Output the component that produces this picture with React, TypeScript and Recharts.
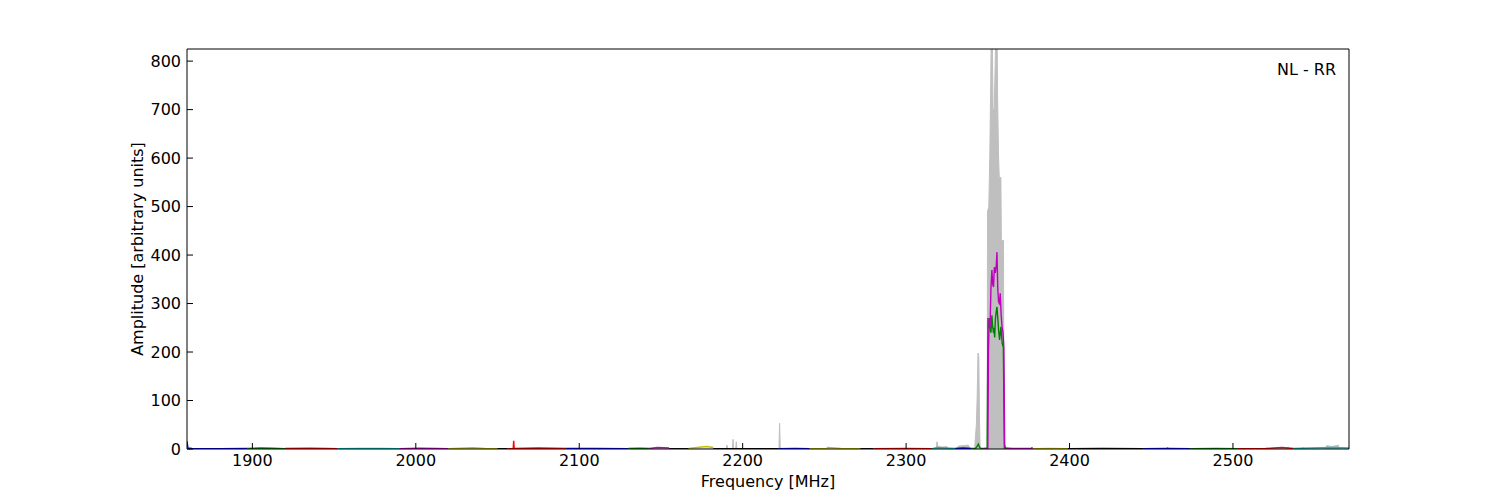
import { ComposedChart, Area, Line, XAxis, YAxis } from "recharts"

// grey max-hold trace
const greyFreq = [
  1860, 2189.9, 2190.4, 2190.9, 2193.7, 2194.1, 2194.5, 2195.7, 2196.1, 2196.5,
  2222.2, 2222.6, 2223.0, 2318.5, 2318.9, 2319.4, 2322, 2325, 2326, 2331, 2332,
  2336, 2338, 2339.5, 2342.0, 2342.3, 2343.0, 2343.5, 2344.0, 2344.5, 2344.9,
  2345.3, 2349.6, 2349.8, 2350.6, 2351.2, 2351.8, 2352.2, 2352.8, 2353.2, 2353.9,
  2354.5, 2355.0, 2355.6, 2356.0, 2356.6, 2357.0, 2358.0, 2358.3, 2359.6, 2359.9,
  2532, 2533.8, 2535, 2541, 2543, 2545, 2556, 2557.5, 2560, 2562, 2564.5, 2565, 2571,
]
const greyAmp = [
  0, 0, 8, 0, 0, 20, 0, 0, 15, 0,
  0, 53, 0, 0, 15, 5, 4, 5, 0, 0, 6,
  7, 8, 0, 0, 20, 50, 110, 198, 190, 60,
  0, 0, 490, 500, 600, 760, 900, 840, 700, 700,
  790, 900, 900, 720, 600, 560, 560, 430, 430, 0,
  0, 4, 0, 0, 3, 0, 0, 7, 5, 6, 8, 0, 0,
]

// coloured sweeps, one per sub-band
const sweepColors = [
  "#0000ff", "#008000", "#ff0000", "#00bfbf", "#bf00bf", "#bfbf00", "#000000",
  "#ff0000", "#0000ff", "#008000", "#bf00bf", "#000000", "#bfbf00", "#000000",
  "#0000ff", "#bfbf00", "#000000", "#ff0000", "#00bfbf", "#0000ff", "#008000",
  "#bf00bf", "#bfbf00", "#000000", "#0000ff", "#008000", "#ff0000", "#00bfbf",
]
const sweepFreqs = [
  [1860, 1860.6, 1863, 1880, 1897],
  [1897, 1905, 1912, 1920],
  [1920, 1935, 1945, 1952],
  [1952, 1965, 1978, 1990],
  [1990, 2002, 2012, 2020],
  [2020, 2035, 2042, 2050],
  [2050, 2056],
  [2056, 2059.6, 2059.9, 2060.2, 2075, 2092],
  [2092, 2110, 2130],
  [2130, 2137, 2143],
  [2143, 2148, 2155],
  [2155, 2167],
  [2167, 2172, 2178, 2182],
  [2182, 2200, 2222],
  [2222, 2232, 2241],
  [2241, 2251.5, 2252, 2260, 2272],
  [2272, 2280],
  [2280, 2300, 2316],
  [2316, 2319, 2324, 2330],
  [2330, 2335, 2340],
  [
    2340, 2342.5, 2343.5, 2344.2, 2345, 2346, 2349.6, 2350.1, 2350.6, 2351.0,
    2351.5, 2351.9, 2352.5, 2352.9, 2353.5, 2353.9, 2354.2, 2354.6, 2355.0,
    2355.6, 2356.1, 2356.6, 2357.2, 2358.0, 2358.4, 2358.8, 2359.5, 2360.1, 2362,
  ],
  [
    2348, 2350.0, 2350.4, 2350.8, 2351.4, 2351.9, 2352.5, 2353.0, 2353.5, 2354.0,
    2354.6, 2355.2, 2355.6, 2356.1, 2356.6, 2357.1, 2357.6, 2358.1, 2358.7,
    2359.3, 2359.8, 2360.3, 2360.8, 2365, 2376.5, 2377, 2377.5,
  ],
  [2377.5, 2388, 2399],
  [2399, 2420, 2445],
  [2445, 2459.5, 2460, 2460.5, 2474],
  [2474, 2490, 2503],
  [2503, 2520, 2530, 2537],
  [2537, 2548, 2560, 2571],
]
const sweepAmps = [
  [16, 2, 1, 0.5, 1],
  [1, 2, 1.5, 0.5],
  [1, 1.5, 1, 0.5],
  [0.5, 1, 1, 0.5],
  [0.5, 1.5, 1, 0.5],
  [0.5, 2.5, 1, 0.5],
  [0.5, 0.5],
  [0.5, 1, 17, 1, 2, 1],
  [1, 1, 0.5],
  [1, 1.5, 1],
  [1, 3, 2],
  [0.5, 0.5],
  [1, 3, 5, 3],
  [0.5, 0.5, 0.5],
  [0.5, 1, 0.5],
  [0.5, 1, 3, 1, 0.5],
  [0.5, 0.5],
  [0.5, 1, 0.5],
  [0.5, 3, 2, 1],
  [1, 2, 1],
  [
    1, 1, 6, 10, 3, 1, 1, 270, 250, 262,
    245, 240, 276, 255, 239, 250, 230, 266, 280,
    293, 270, 245, 225, 252, 235, 218, 210, 2, 1,
  ],
  [
    1, 1, 200, 270, 250, 330, 369, 340, 334, 375,
    363, 380, 406, 330, 303, 300, 321, 280, 252,
    240, 210, 10, 2, 1, 1, 2.5, 0.5,
  ],
  [0.5, 1, 0.5],
  [0.5, 1, 0.5],
  [0.5, 1, 2, 1, 0.5],
  [0.5, 1, 0.5],
  [0.5, 1, 3, 1],
  [1, 2, 3, 2],
]

const xTicks = [1900, 2000, 2100, 2200, 2300, 2400, 2500]
const yTicks = [0, 100, 200, 300, 400, 500, 600, 700, 800]

// merge everything into one table keyed by frequency
const rowsByFreq = new Map<number, Record<string, number>>()
const put = (f: number, key: string, v: number) => {
  const row = rowsByFreq.get(f) ?? { f }
  row[key] = v
  rowsByFreq.set(f, row)
}
greyFreq.forEach((f, i) => put(f, "grey", greyAmp[i]))
sweepFreqs.forEach((fs, s) => fs.forEach((f, i) => put(f, `s${s}`, sweepAmps[s][i])))
const data = [...rowsByFreq.values()].sort((a, b) => a.f - b.f)

const tickFont = { fontSize: 16, fill: "#000", fontFamily: "DejaVu Sans" }

export default function App() {
  return (
    <div style={{ position: "absolute", left: 0, top: 0, width: 1500, height: 500, fontFamily: "DejaVu Sans" }}>
      <ComposedChart width={1500} height={500} data={data} margin={{ top: 39, right: 141, bottom: 0, left: 87 }}>
        <XAxis
          dataKey="f"
          type="number"
          domain={[1860, 2571]}
          allowDataOverflow
          ticks={xTicks}
          height={51}
          tick={tickFont}
          tickSize={-6}
          tickMargin={12}
          stroke="#000"
          label={{ value: "Frequency [MHz]", position: "insideBottom", offset: 13, fontSize: 16, fill: "#000" }}
        />
        <XAxis
          xAxisId="top"
          orientation="top"
          dataKey="f"
          type="number"
          domain={[1860, 2571]}
          allowDataOverflow
          ticks={xTicks}
          height={10}
          tick={false}
          tickSize={-6}
          stroke="#000"
        />
        <YAxis
          type="number"
          domain={[0, 825]}
          allowDataOverflow
          ticks={yTicks}
          width={100}
          tick={tickFont}
          tickSize={-6}
          tickMargin={12}
          stroke="#000"
          label={{ value: "Amplitude [arbitrary units]", angle: -90, position: "center", fontSize: 16, fill: "#000" }}
        />
        <YAxis
          yAxisId="right"
          orientation="right"
          type="number"
          domain={[0, 825]}
          allowDataOverflow
          ticks={yTicks}
          width={10}
          tick={false}
          tickSize={-6}
          stroke="#000"
        />
        <Area
          dataKey="grey"
          type="linear"
          fill="#bfbfbf"
          fillOpacity={1}
          stroke="#bfbfbf"
          strokeWidth={1}
          connectNulls
          dot={false}
          activeDot={false}
          isAnimationActive={false}
        />
        {sweepColors.map((c, s) => (
          <Line
            key={s}
            dataKey={`s${s}`}
            type="linear"
            stroke={c}
            strokeWidth={1.4}
            connectNulls
            dot={false}
            activeDot={false}
            isAnimationActive={false}
          />
        ))}
      </ComposedChart>
      <div style={{ position: "absolute", right: 164, top: 60, fontSize: 16, color: "#000" }}>NL - RR</div>
    </div>
  )
}
